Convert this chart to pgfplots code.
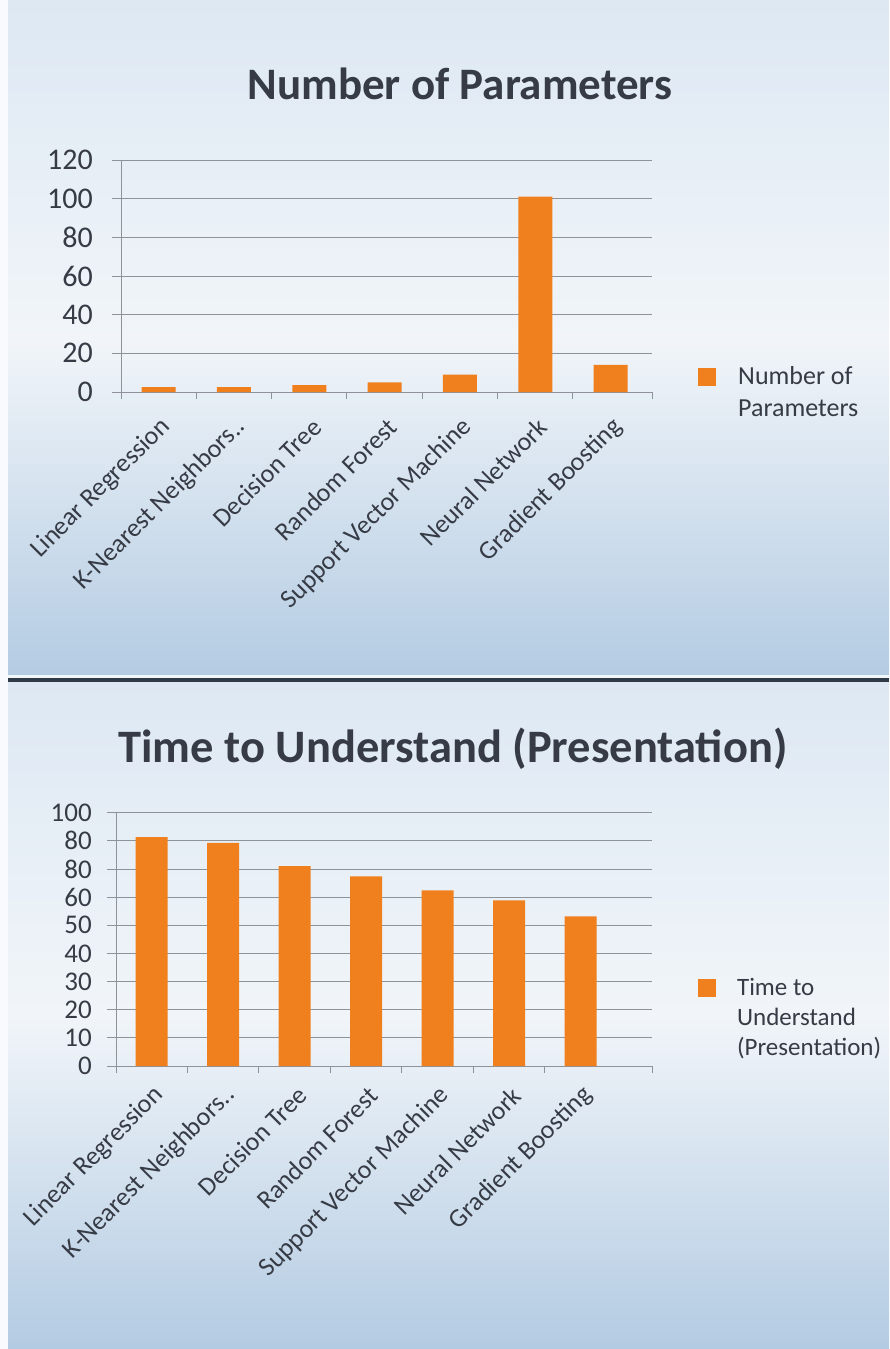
\documentclass[border=0pt]{standalone}
\usepackage{fontspec}
\setmainfont{Carlito}
\usepackage{pgfplots}
\pgfplotsset{compat=1.18}
\definecolor{barorange}{HTML}{F0801E}
\definecolor{gridgray}{HTML}{8E9399}
\definecolor{txt}{HTML}{363B45}
\definecolor{bgtop}{HTML}{DDE8F3}
\definecolor{bgmid}{HTML}{F1F5F9}
\definecolor{bgbot}{HTML}{B3CBE2}
\definecolor{sepline}{HTML}{2E3B47}
\pgfplotstableread{
x y
0 2.5
1 2.5
2 3.5
3 5
4 9
5 101
6 14
}\params
\pgfplotstableread{
x y
0 81.3
1 79.3
2 71.0
3 67.4
4 62.4
5 58.9
6 53.2
}\timeund
\pgfplotsset{
  mychart/.style={
    scale only axis,
    axis x line*=bottom, axis y line*=left,
    axis line style={gridgray, line width=1pt},
    ymajorgrids, major grid style={gridgray, line width=1pt},
    tick align=outside, major tick length=9pt,
    ytick style={draw=gridgray, line width=1pt},
    xtick style={draw=none},
    xtick={0,...,6},
    xticklabels={Linear Regression, K-Nearest Neighbors.., Decision Tree, Random Forest, Support Vector Machine, Neural Network, Gradient Boosting},
    xticklabel style={rotate=45, anchor=east, inner sep=0pt, text=txt, font=\fontsize{26}{30}\selectfont},
    extra x tick style={xtick style={draw=gridgray, line width=1pt}, major tick length=7pt, xticklabel style={opacity=0}},
    yticklabel style={anchor=east, inner sep=0pt, text=txt},
    ybar, bar width=34pt,
    legend cell align=left,
  },
}
\begin{document}
\begin{tikzpicture}
\useasboundingbox (0,0) rectangle (889pt,-1349pt);
% backgrounds
\shade[top color=bgtop, bottom color=bgbot, middle color=bgmid] (0,0) rectangle (889pt,-679pt);
\shade[top color=bgtop, bottom color=bgbot, middle color=bgmid] (0,-681pt) rectangle (889pt,-1349pt);
\fill[white!80!bgtop] (0,0) rectangle (8pt,-1349pt);
\fill[white!60!bgtop] (8pt,-675pt) rectangle (889pt,-678pt);
\fill[sepline] (8pt,-678pt) rectangle (889pt,-681.5pt);
% titles
\node[anchor=base, text=txt, font=\fontsize{45}{52}\selectfont\bfseries] at (460pt,-99pt) {Number of Parameters};
\node[anchor=base, text=txt, font=\fontsize{46.5}{54}\selectfont\bfseries] at (453pt,-762pt) {Time to Understand (Presentation)};

\begin{axis}[mychart,
  at={(121pt,-392pt)}, anchor=south west,
  width=531pt, height=232pt,
  xmin=-0.5, xmax=6.55, ymin=0, ymax=120,
  ytick={0,20,...,120}, yticklabels={0,20,40,60,80,100,120},
  yticklabel style={font=\fontsize{30}{34}\selectfont, xshift=-19pt},
  xticklabel style={xshift=-10pt, yshift=-21pt},
  extra x ticks={-0.5,0.5,1.5,2.5,3.5,4.5,5.5,6.55},
  legend image code/.code={\path[draw=none,fill=none] (0pt,-24pt) rectangle (18pt,24pt);\fill[barorange] (0pt,6pt) rectangle (18pt,24pt);},
  legend style={at={(1.081,0)}, anchor=west, draw=none, fill=none,
    font=\fontsize{26}{31.5}\selectfont, text=txt, cells={align=left},
    /tikz/every odd column/.append style={column sep=20pt}},
]
\addplot[fill=barorange, draw=none] table[x=x,y=y] {\params};
\addlegendentry{Number of\\Parameters}
\end{axis}

\begin{axis}[mychart,
  at={(116pt,-1066pt)}, anchor=south west,
  width=536pt, height=253.3pt,
  xmin=-0.5, xmax=7.0, ymin=0, ymax=90,
  ytick={0,10,...,90}, yticklabels={0,10,20,30,40,50,60,80,80,100},
  yticklabel style={font=\fontsize{27}{30}\selectfont, xshift=-15pt},
  xticklabel style={xshift=-6pt, yshift=-17pt},
  extra x ticks={-0.5,0.5,1.5,2.5,3.5,4.5,5.5,7.0},
  bar width=32pt,
  legend image code/.code={\path[draw=none,fill=none] (0pt,-39pt) rectangle (18pt,39pt);\fill[barorange] (0pt,21pt) rectangle (18pt,39pt);},
  legend style={at={(1.080,0.19)}, anchor=west, draw=none, fill=none,
    font=\fontsize{25}{30}\selectfont, text=txt, cells={align=left},
    /tikz/every odd column/.append style={column sep=19pt}},
]
\addplot[fill=barorange, draw=none] table[x=x,y=y] {\timeund};
\addlegendentry{Time to\\Understand\\(Presentation)}
\end{axis}
\end{tikzpicture}
\end{document}
